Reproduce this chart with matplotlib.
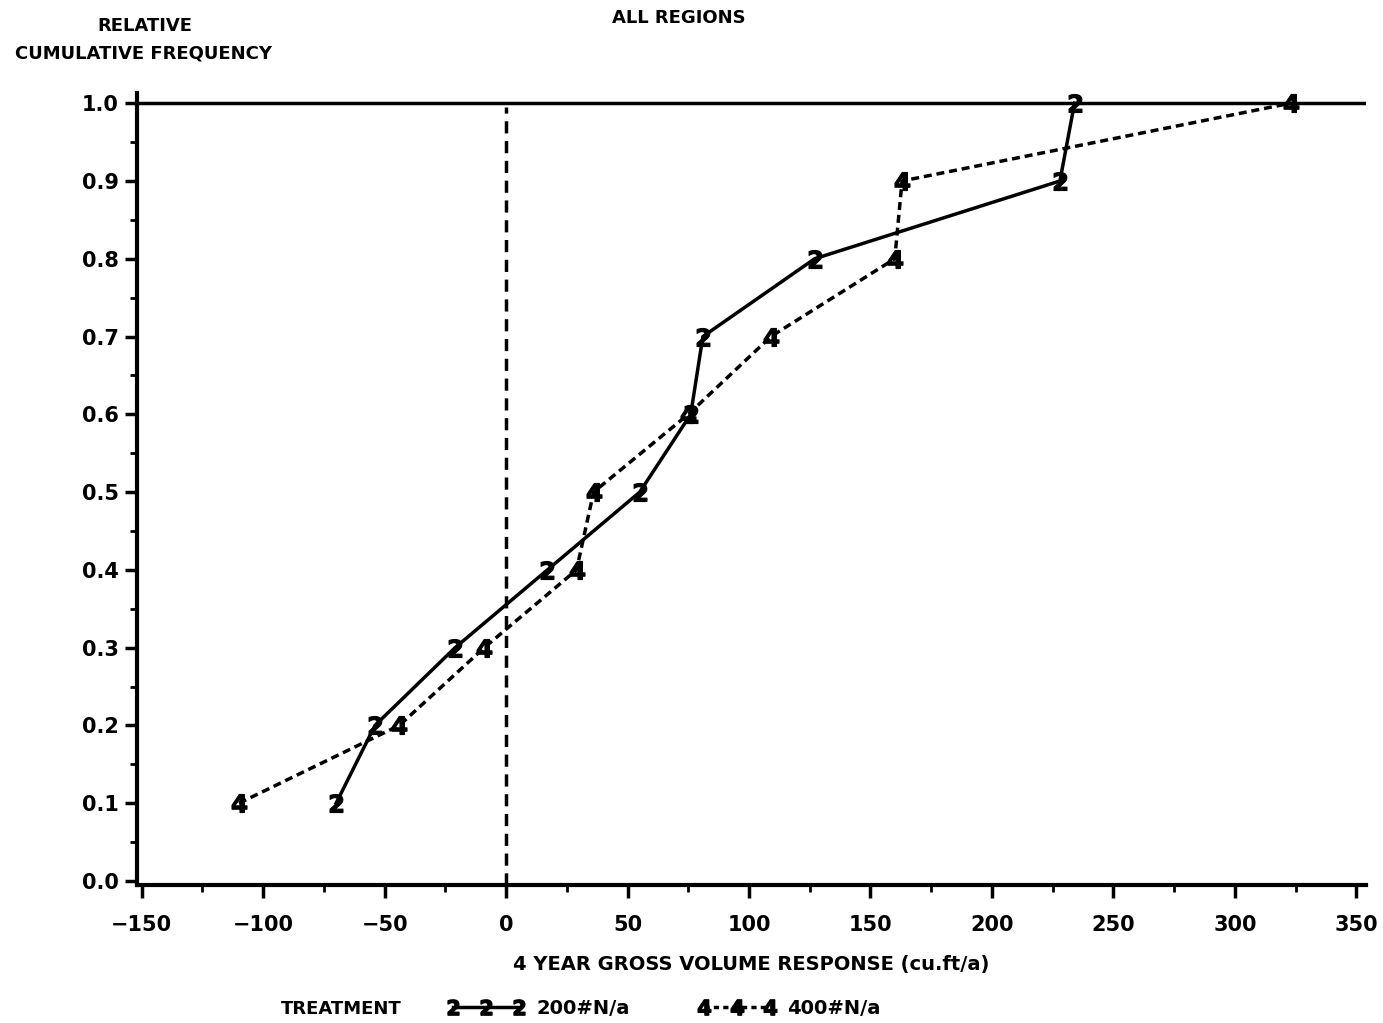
import matplotlib
matplotlib.use('Agg')
from matplotlib import pyplot as plt
from matplotlib.ticker import MultipleLocator
from matplotlib.lines import Line2D

freq = [0.1, 0.2, 0.3, 0.4, 0.5, 0.6, 0.7, 0.8, 0.9, 1.0]
resp_200 = [-70, -54, -21, 17, 55, 76, 81, 127, 228, 234]
resp_400 = [-110, -44, -9, 29, 36, 75, 109, 160, 163, 323]
x_ticks = [-150, -100, -50, 0, 50, 100, 150, 200, 250, 300, 350]
y_ticks = [0.0, 0.1, 0.2, 0.3, 0.4, 0.5, 0.6, 0.7, 0.8, 0.9, 1.0]

plt.rcParams['font.family'] = 'DejaVu Sans'
plt.rcParams['font.weight'] = 'bold'

fig = plt.figure(figsize=(13.83, 10.23), dpi=100)
ax = fig.add_axes([0.099, 0.135, 0.8887, 0.774])

ax.plot(resp_200, freq, color='black', lw=2.5, marker='$2$', markersize=13,
        markeredgewidth=0.8)
ax.plot(resp_400, freq, color='black', lw=2.5, dashes=(2.3, 1.4), marker='$4$',
        markersize=13, markeredgewidth=0.8)

ax.axvline(0, ymin=0, ymax=1.0 / 1.018, color='black', lw=2.5, dashes=(3.5, 2.2))
ax.axhline(1.0, color='black', lw=2.5)

ax.set_xlim(-152, 354)
ax.set_ylim(-0.005, 1.013)
ax.set_xticks(x_ticks)
ax.set_xticklabels(['\u2212150', '\u2212100', '\u221250', '0', '50', '100', '150',
                    '200', '250', '300', '350'])
ax.set_yticks(y_ticks)
ax.set_yticklabels(['%.1f' % v for v in y_ticks])
ax.xaxis.set_minor_locator(MultipleLocator(25))
ax.yaxis.set_minor_locator(MultipleLocator(0.05))
ax.tick_params(which='major', direction='out', length=9, width=2.5, labelsize=15, pad=13)
ax.tick_params(axis='y', which='major', pad=4)
ax.tick_params(which='minor', direction='out', length=5, width=2)
for side in ['top', 'right']:
    ax.spines[side].set_visible(False)
for side in ['left', 'bottom']:
    ax.spines[side].set_linewidth(3)

ax.set_xlabel('4 YEAR GROSS VOLUME RESPONSE (cu.ft/a)', fontsize=14,
              fontweight='bold', labelpad=14)

fig.text(0.105, 0.975, 'RELATIVE', ha='center', va='center', fontsize=13, fontweight='bold')
fig.text(0.104, 0.948, 'CUMULATIVE FREQUENCY', ha='center', va='center', fontsize=13,
         fontweight='bold')
fig.text(0.491, 0.982, 'ALL REGIONS', ha='center', va='center', fontsize=13,
         fontweight='bold')

fig.text(0.247, 0.014, 'TREATMENT', ha='center', va='center', fontsize=13,
         fontweight='bold')
handles = [
    Line2D([], [], color='black', lw=2.5, marker='$2$', markersize=11),
    Line2D([], [], color='black', lw=2.5, dashes=(1.5, 1.2), marker='$4$', markersize=11),
]
fig.legend(handles, ['200#N/a', '400#N/a'], ncol=2, numpoints=3, frameon=False,
           loc='center', bbox_to_anchor=(0.48, 0.014), fontsize=14,
           handlelength=4, handletextpad=0.6, columnspacing=3.5)

plt.savefig('out.png', dpi=100)
